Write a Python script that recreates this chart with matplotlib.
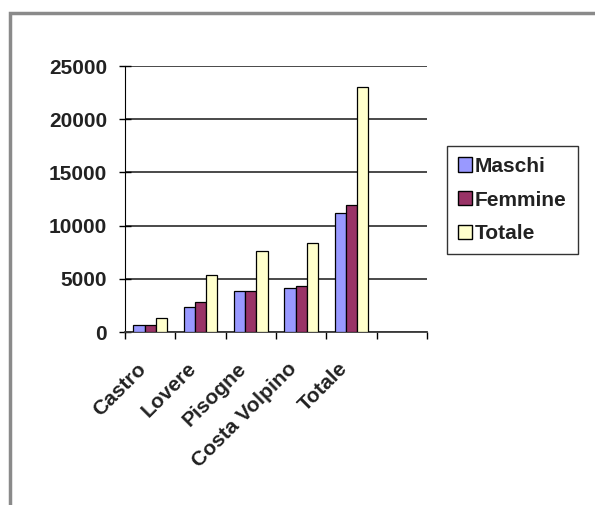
"""Grouped bar chart of residents by town, split into men, women and total."""
import matplotlib

matplotlib.use("Agg")
import matplotlib.pyplot as plt
from matplotlib.patches import Rectangle
import numpy as np

plt.rcParams["font.family"] = ["Liberation Sans", "DejaVu Sans"]

TOWNS = ["Castro", "Lovere", "Pisogne", "Costa Volpino", "Totale"]
MASCHI = [650, 2350, 3850, 4100, 11200]
FEMMINE = [700, 2830, 3850, 4350, 11950]
TOTALE = [1320, 5380, 7600, 8380, 23000]

SERIES = [("Maschi", MASCHI, "#9999ff"),
          ("Femmine", FEMMINE, "#993366"),
          ("Totale", TOTALE, "#ffffcc")]

N_SLOTS = 6          # one empty category slot is left at the right end
BAR_W = 1 / 4.5      # gap width 150%
GRID = "#3a3a3a"
INK = "#222222"
FS = 15

fig = plt.figure(figsize=(5.95, 5.05), dpi=100)
fig.patches.append(Rectangle((10 / 595, -0.1), 1.2, 1 - 13 / 505 + 0.1,
                             transform=fig.transFigure, fill=False,
                             edgecolor="#8a8a8a", linewidth=2.5))

ax = fig.add_axes([125 / 595, 1 - 332 / 505, 302 / 595, 266 / 505])
x = np.arange(len(TOWNS))
for i, (name, vals, color) in enumerate(SERIES):
    ax.bar(x + 0.5 + (i - 1) * BAR_W, vals, width=BAR_W, color=color,
           edgecolor="black", linewidth=0.9, label=name, zorder=3)

ax.set_xlim(0, N_SLOTS)
ax.set_ylim(0, 25000)
ax.set_yticks(range(0, 25001, 5000))
ax.set_yticklabels([str(v) for v in range(0, 25001, 5000)],
                   fontsize=FS, fontweight="bold", color=INK)
ax.yaxis.grid(True, color=GRID, linewidth=1.3, zorder=0)
ax.set_axisbelow(True)

ax.set_xticks(range(N_SLOTS + 1))
ax.set_xticklabels([])
ax.tick_params(axis="x", direction="out", length=5, width=1, color="black")
ax.tick_params(axis="y", direction="inout", length=8, width=1, color="black", pad=9)
for i, town in enumerate(TOWNS):
    ax.annotate(town, xy=(i + 0.5, 0), xytext=(-14, -27),
                textcoords="offset pixels", rotation=45, ha="right", va="top",
                rotation_mode="anchor", fontsize=FS, fontweight="bold",
                color=INK, annotation_clip=False)

ax.spines[["top", "right"]].set_visible(False)
ax.spines["left"].set_color("black")
ax.spines["bottom"].set_color(GRID)
ax.spines["bottom"].set_linewidth(1.3)

leg = fig.legend(loc="upper left", bbox_to_anchor=(447 / 595, 1 - 146 / 505),
                 prop={"weight": "bold", "size": FS}, frameon=True,
                 fancybox=False, edgecolor="black", handlelength=0.67,
                 handleheight=0.67, handletextpad=0.15, labelspacing=0.71,
                 borderpad=0.52, borderaxespad=0)
leg.get_frame().set_linewidth(1)
for h in leg.legend_handles:
    h.set_linewidth(1)
for t in leg.get_texts():
    t.set_color(INK)

fig.savefig("out.png", dpi=100)
